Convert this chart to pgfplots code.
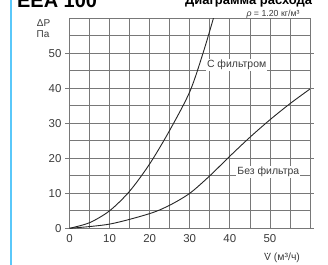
\documentclass[border=0pt]{standalone}
\usepackage{fontspec}
\setmainfont{Liberation Sans}
\usepackage{pgfplots}
\pgfplotsset{compat=1.18}
\definecolor{cyanline}{RGB}{90,200,250}
\definecolor{gridc}{RGB}{120,120,120}
\definecolor{txt}{RGB}{60,60,60}
\begin{document}
\begin{tikzpicture}[x=1bp,y=1bp]
\useasboundingbox (0,0) rectangle (328bp,265bp);
\clip (0,0) rectangle (328bp,265bp);
\fill[white] (0,0) rectangle (328bp,265bp);
\draw[cyanline, line width=1.2bp] (11bp,0) -- (11bp,265bp);
\node[anchor=base west, inner sep=0, font=\bfseries\fontsize{20}{20}\selectfont] at (17bp,257bp) {EEA 100};
\node[anchor=base west, inner sep=0, font=\bfseries\fontsize{13}{13}\selectfont] at (185bp,260.5bp) {Диаграмма расхода};
\node[anchor=center, inner sep=0, text=txt, font=\fontsize{10}{10}\selectfont] at (43.5bp,241.5bp) {ΔP};
\node[anchor=center, inner sep=0, text=txt, font=\fontsize{10}{10}\selectfont] at (43bp,231bp) {Па};
\node[anchor=center, inner sep=0, text=txt, font=\fontsize{8.8}{8.8}\selectfont] at (273bp,250.5bp) {\textit{ρ} = 1.20 кг/м³};
\node[anchor=center, inner sep=0, text=txt, font=\fontsize{10.5}{10.5}\selectfont] at (282bp,7bp) {\ooalign{V\cr\hidewidth\raisebox{0.55em}{.}\hidewidth\cr}\ (м³/ч)};
\begin{axis}[
  at={(69.5bp,36.7bp)}, anchor=south west, scale only axis,
  width=240.5bp, height=210bp,
  xmin=0, xmax=60, ymin=0, ymax=60,
  xtick={0,10,...,50}, ytick={0,10,...,50},
  minor xtick={5,15,...,55}, minor ytick={5,15,...,55},
  grid=both,
  grid style={gridc, line width=0.7bp},
  minor grid style={gridc, line width=0.7bp},
  axis line style={gridc, line width=0.7bp},
  tick align=outside,
  major tick length=4bp, minor tick length=0pt,
  xtick style={draw=none},
  ytick style={gridc, line width=0.7bp},
  tick label style={font=\fontsize{11.5}{11.5}\selectfont, text=txt},
  /pgf/number format/assume math mode=true,
  xticklabel style={yshift=1bp},
  yticklabel style={xshift=-0.5bp},
]
\addplot[smooth, black!85, line width=0.9bp] coordinates {(0,0)(5,1.6)(10,5.0)(15,10.6)(20,18.4)(25,28)(30,39)(33.3,50)(35.9,60)(36.3,62)};
\addplot[smooth, black!85, line width=0.9bp] coordinates {(0,0)(10,1.2)(20,4.2)(25,6.6)(30,10)(35,15)(40,20.6)(45,26)(50,31)(55,35.6)(60,39.8)};
\node[fill=white, inner sep=1bp, text=txt, font=\fontsize{10.5}{10.5}\selectfont] at (axis cs:41.7,46.7) {С фильтром};
\node[fill=white, inner sep=1bp, text=txt, font=\fontsize{10.5}{10.5}\selectfont] at (axis cs:49.6,16.1) {Без фильтра};
\end{axis}
\end{tikzpicture}
\end{document}
